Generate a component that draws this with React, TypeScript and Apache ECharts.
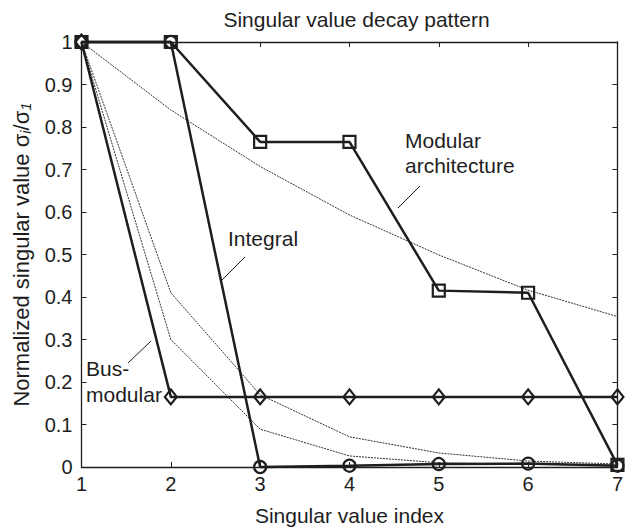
import React, { useEffect, useRef } from "react";
import * as echarts from "echarts";

// Singular value index (x) and normalized singular values sigma_i / sigma_1
const indices = [1, 2, 3, 4, 5, 6, 7];
const modularArchitecture = [1, 1, 0.765, 0.765, 0.415, 0.41, 0.005];
const integral = [1, 1, 0, 0.003, 0.007, 0.008, 0.003];
const busModular = [1, 0.165, 0.165, 0.165, 0.165, 0.165, 0.165];
const decayA = [1, 0.84, 0.707, 0.593, 0.499, 0.416, 0.354];
const decayB = [1, 0.41, 0.17, 0.071, 0.033, 0.014, 0.007];
const decayC = [1, 0.3, 0.089, 0.026, 0.01, 0.006, 0.004];

const FONT = "'Liberation Sans', Arial, Helvetica, sans-serif";
const INK = "#1e1e1e";

const pairs = (ys: number[]) => indices.map((x, i) => [x, ys[i]]);

export default function App() {
  const ref = useRef<HTMLDivElement>(null);

  useEffect(() => {
    if (!ref.current) return;
    const chart = echarts.init(ref.current, null, { renderer: "svg" });

    const thin = (name: string, ys: number[]) => ({
      name,
      type: "line",
      data: pairs(ys),
      symbol: "none",
      clip: false,
      z: 2,
      lineStyle: { color: "#333", width: 1, type: [2, 1] },
      emphasis: { disabled: true },
    });

    const thick = (name: string, ys: number[], symbol: string, size: any) => ({
      name,
      type: "line",
      data: pairs(ys),
      symbol,
      symbolSize: size,
      showAllSymbol: true,
      clip: false,
      z: 5,
      lineStyle: { color: INK, width: 2.5 },
      itemStyle: { color: "rgba(255,255,255,0)", borderColor: INK, borderWidth: 2.2 },
      emphasis: { disabled: true },
    });

    const axisCommon = {
      axisLine: { show: true, onZero: false, lineStyle: { color: INK, width: 1.3 } },
      axisTick: { show: true, inside: true, length: 5, lineStyle: { color: INK, width: 1 } },
      splitLine: { show: false },
    };

    const annText = (text: string, x: number, y: number) => ({
      type: "text",
      x,
      y,
      z: 10,
      style: {
        text,
        fill: INK,
        font: `21px ${FONT}`,
        verticalAlign: "middle",
        textVerticalAlign: "middle",
        align: "left",
      },
    });
    const annLine = (x1: number, y1: number, x2: number, y2: number) => ({
      type: "line",
      z: 10,
      shape: { x1, y1, x2, y2 },
      style: { stroke: INK, lineWidth: 1 },
    });

    chart.setOption({
      animation: false,
      backgroundColor: "#ffffff",
      title: {
        text: "Singular value decay pattern",
        left: 351.5,
        top: 4,
        textAlign: "center",
        textStyle: { fontSize: 21, fontWeight: "normal", color: INK, fontFamily: FONT },
      },
      grid: { left: 81.5, right: 4.5, top: 42, bottom: 64, containLabel: false },
      xAxis: [
        {
          type: "value",
          min: 1,
          max: 7,
          interval: 1,
          position: "bottom",
          ...axisCommon,
          axisLabel: { fontSize: 20, color: INK, fontFamily: FONT, margin: 7 },
          name: "Singular value index",
          nameLocation: "middle",
          nameGap: 38,
          nameTextStyle: { fontSize: 21, color: INK, fontFamily: FONT },
        },
        {
          type: "value",
          min: 1,
          max: 7,
          interval: 1,
          position: "top",
          ...axisCommon,
          axisLabel: { show: false },
        },
      ],
      yAxis: [
        {
          type: "value",
          min: 0,
          max: 1,
          interval: 0.1,
          position: "left",
          ...axisCommon,
          axisLabel: {
            fontSize: 20,
            color: INK,
            fontFamily: FONT,
            margin: 9,
            formatter: (v: number) => String(Math.round(v * 10) / 10),
          },
          name: "Normalized singular value σ{sub|i}/σ{sub|1}",
          nameLocation: "middle",
          nameGap: 49,
          nameTextStyle: {
            fontSize: 22,
            color: INK,
            fontFamily: FONT,
            rich: {
              sub: {
                fontSize: 15,
                fontStyle: "italic",
                color: INK,
                fontFamily: FONT,
                verticalAlign: "bottom",
                padding: [8, 0, 0, 0],
              },
            },
          },
        },
        {
          type: "value",
          min: 0,
          max: 1,
          interval: 0.1,
          position: "right",
          ...axisCommon,
          axisLabel: { show: false },
        },
      ],
      series: [
        thin("Decay A", decayA),
        thin("Decay B", decayB),
        thin("Decay C", decayC),
        thick("Bus-modular", busModular, "diamond", [12, 15]),
        thick("Integral", integral, "circle", 12),
        thick("Modular architecture", modularArchitecture, "rect", 12),
      ],
      graphic: [
        annText("Modular", 405, 140),
        annText("architecture", 405, 165),
        annLine(420, 186, 398, 208),
        annText("Integral", 228, 238),
        annLine(245, 257, 222, 280),
        annText("Bus-", 86, 368),
        annText("modular", 86, 394),
        annLine(151, 341, 128, 363),
      ],
    });

    return () => chart.dispose();
  }, []);

  return (
    <div
      ref={ref}
      style={{ position: "absolute", left: 0, top: 0, width: 626, height: 531 }}
    />
  );
}
